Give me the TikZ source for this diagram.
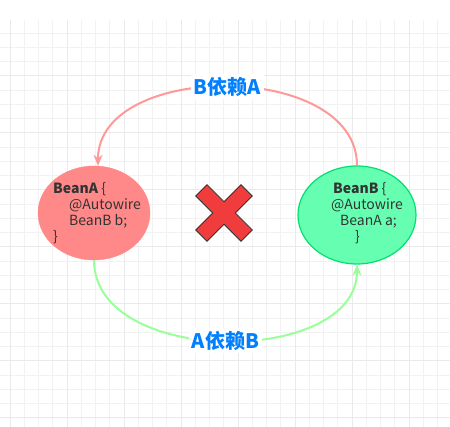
\documentclass[tikz,border=0pt]{standalone}
\usepackage{fontspec}
\setmainfont{Noto Sans CJK SC}
\usepackage{xcolor}
\usetikzlibrary{arrows.meta,shapes.geometric}

\definecolor{gridgray}{RGB}{242,242,242}
\definecolor{gridmajor}{RGB}{234,234,234}
\definecolor{beanred}{RGB}{255,136,136}
\definecolor{beangreen}{RGB}{102,255,178}
\definecolor{beanborder}{RGB}{0,224,112}
\definecolor{linkred}{RGB}{255,153,153}
\definecolor{linkgreen}{RGB}{153,255,153}
\definecolor{labelblue}{RGB}{0,127,255}
\definecolor{crossred}{RGB}{240,60,60}
\definecolor{textgray}{RGB}{51,51,51}

\tikzset{
  beanA/.style={ellipse, fill=beanred, draw=beanred, minimum width=112, minimum height=94, inner sep=0},
  beanB/.style={ellipse, fill=beangreen, draw=beanborder, line width=1.2pt, minimum width=118, minimum height=98, inner sep=0},
  code/.style={anchor=base west, inner sep=0, text=textgray, font=\fontsize{14}{16}\selectfont},
  dep/.style={line width=2pt, -{Stealth[length=11pt, width=9pt]}},
  deplabel/.style={fill=white, inner sep=3pt, text=labelblue, font=\fontsize{20}{23}\selectfont\bfseries},
}

\begin{document}
\begin{tikzpicture}[x=1pt, y=-1pt]
    \useasboundingbox (0,0) rectangle (450,427);
    \fill[white] (0,0) rectangle (450,427);

    % Background grid
    \foreach \i in {0,...,30}
        \draw[gridgray, line width=0.8pt] ({10+14.25*\i},20) -- ({10+14.25*\i},427);
    \foreach \i in {0,...,27}
        \draw[gridgray, line width=0.8pt] (0,{33+14.25*\i}) -- (450,{33+14.25*\i});
    \foreach \i in {0,4,...,28}
        \draw[gridmajor, line width=0.8pt] ({10+14.25*\i},20) -- ({10+14.25*\i},427);
    \foreach \i in {3,7,...,27}
        \draw[gridmajor, line width=0.8pt] (0,{33+14.25*\i}) -- (450,{33+14.25*\i});

    % The two beans
    \node[beanA] (beanA) at (94,213) {};
    \node[beanB] (beanB) at (357,215) {};

    % Bean A code
    \node[code] (a1) at (53,194) {\textbf{BeanA} \{};
    \node[code] (a2) at (69,210) {@Autowire};
    \node[code] (a3) at (69,226) {BeanB b;};
    \node[code] (a4) at (53,242) {\}};

    % Bean B code
    \node[code] (b1) at (333,194) {\textbf{BeanB} \{};
    \node[code] (b2) at (331,210) {@Autowire};
    \node[code] (b3) at (340,226) {BeanA a;};
    \node[code] (b4) at (355,242) {\}};

    % B depends on A
    \draw[dep, linkred] (beanB.north) .. controls +(0,-105) and +(0,-105) .. ([xshift=4pt]beanA.north)
        node[deplabel, pos=0.5] (labBA) {B依赖A};

    % A depends on B
    \draw[dep, linkgreen] (beanA.south) .. controls +(0,107) and +(0,102) .. (beanB.south)
        node[deplabel, pos=0.5] (labAB) {A依赖B};

    % Red cross in the middle
    \draw[fill=crossred, draw=black!80, line width=0.8pt, shift={(224,213)}, rotate=45]
        (32,8) -- (8,8) -- (8,32) -- (-8,32) -- (-8,8) -- (-32,8) -- (-32,-8)
        -- (-8,-8) -- (-8,-32) -- (8,-32) -- (8,-8) -- (32,-8) -- cycle;
\end{tikzpicture}
\end{document}
